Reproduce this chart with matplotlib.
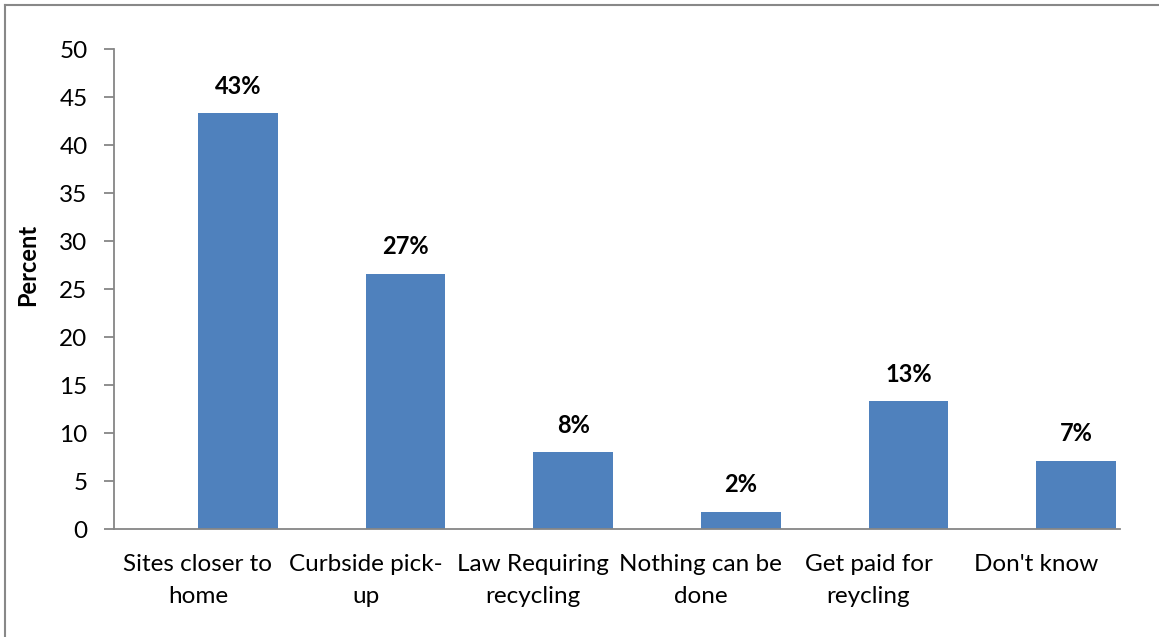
import matplotlib
matplotlib.use("Agg")
import matplotlib.pyplot as plt
import numpy as np
from matplotlib.lines import Line2D

categories = ["Sites closer to\nhome", "Curbside pick-\nup", "Law Requiring\nrecycling",
              "Nothing can be\ndone", "Get paid for\nreycling", "Don't know"]
values = [43.3, 26.6, 8.0, 1.8, 13.3, 7.1]
yticks = [0, 5, 10, 15, 20, 25, 30, 35, 40, 45, 50]

plt.rcParams['font.family'] = ['Lato', 'DejaVu Sans']

W, H = 1159, 637
fig = plt.figure(figsize=(W / 100, H / 100), dpi=100)
ax = fig.add_axes([114 / W, (H - 529) / H, (1120 - 114) / W, (529 - 49) / H])

x = np.arange(len(categories))
bar_w = 80 / 167.7
bars = ax.bar(x, values, width=bar_w, align='edge', color='#4F81BD', zorder=2)

for xi, v in zip(x, values):
    ax.text(xi + bar_w / 2, v + 1.6, f"{v:.0f}%", ha='center', va='bottom',
            fontsize=17, fontweight='bold', color='black')

ax.set_xlim(-0.5, len(categories) - 0.5)
ax.set_ylim(0, 50)
ax.set_yticks(yticks)
ax.set_yticklabels([str(t) for t in yticks], fontsize=17.5)
ax.set_xticks(x)
ax.set_xticklabels(categories, fontsize=17.5, linespacing=1.62)

ax.tick_params(axis='y', length=7, width=1.3, color='#868686', pad=12, direction='out')
ax.tick_params(axis='x', length=0, pad=18)

for s in ['top', 'right']:
    ax.spines[s].set_visible(False)
for s in ['left', 'bottom']:
    ax.spines[s].set_color('#868686')
    ax.spines[s].set_linewidth(1.3)

fig.text(28 / W, 1 - 265 / H, "Percent", rotation=90, ha='center', va='center',
         fontsize=17, fontweight='bold')

# chart-area frame (top and left edges)
fig.add_artist(Line2D([5 / W, 5 / W], [0, 1 - 5 / H], color='#888888', lw=1.5,
                      transform=fig.transFigure))
fig.add_artist(Line2D([5 / W, 1], [1 - 5 / H, 1 - 5 / H], color='#888888', lw=1.5,
                      transform=fig.transFigure))

fig.savefig("out.png", dpi=100)
